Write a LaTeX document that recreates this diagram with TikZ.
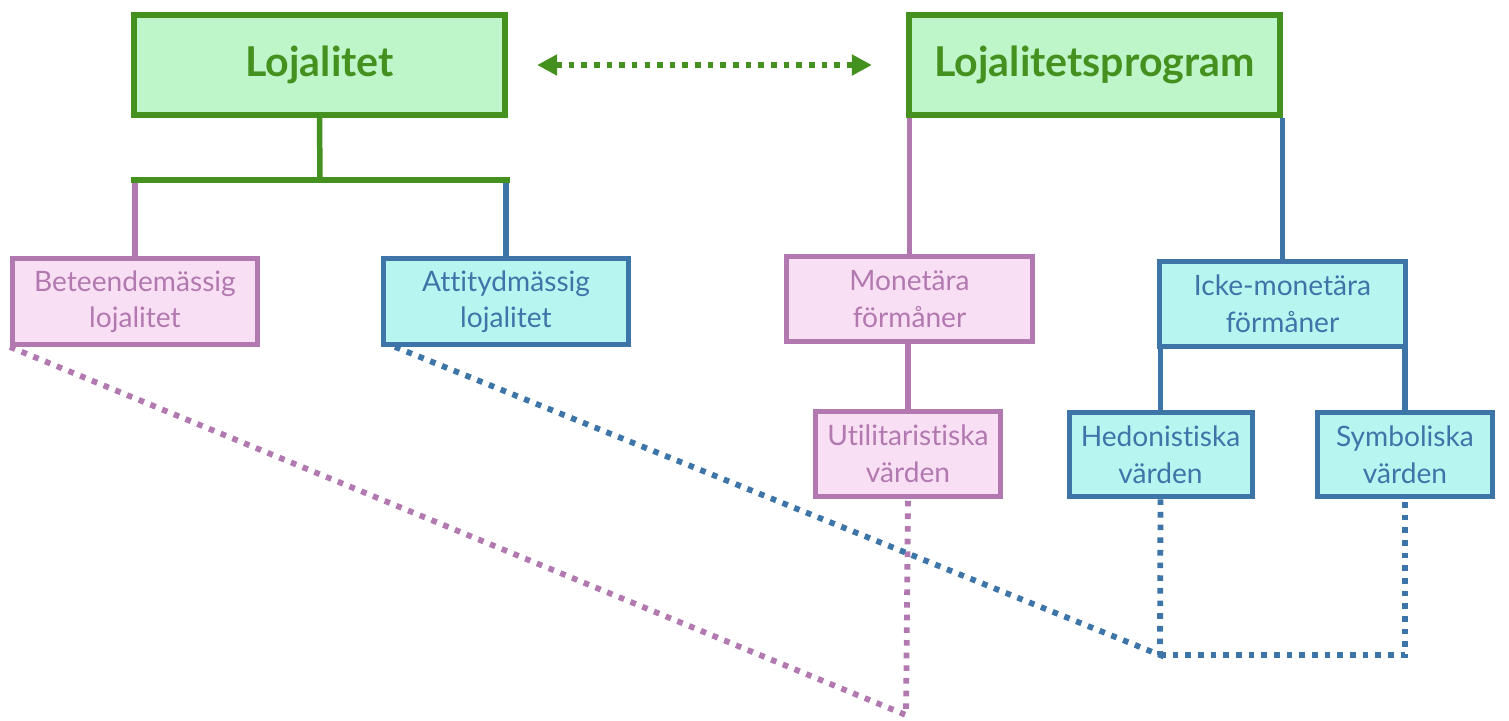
\documentclass[tikz,border=0pt]{standalone}
\usepackage{fontspec}
\setmainfont[Ligatures=NoCommon]{Lato}
\usetikzlibrary{arrows.meta}
\definecolor{grline}{HTML}{45911F}
\definecolor{grfill}{HTML}{BEF5C9}
\definecolor{pkline}{HTML}{B279B0}
\definecolor{pkfill}{HTML}{F9DFF3}
\definecolor{blline}{HTML}{3E75A8}
\definecolor{blfill}{HTML}{B6F5F0}
\begin{document}
\begin{tikzpicture}[x=0.01cm,y=-0.01cm,
	mainbox/.style={draw=grline,fill=grfill,text=grline,line width=0.06cm,minimum width=3.71cm,minimum height=1cm,font=\fontsize{11.7}{14}\selectfont\bfseries},
	smallbox/.style={line width=0.05cm,align=center,minimum height=0.84cm,font=\fontsize{8}{10.4}\selectfont},
	pinkbox/.style={smallbox,draw=pkline,fill=pkfill,text=pkline},
	bluebox/.style={smallbox,draw=blline,fill=blfill,text=blline},
	link/.style={line width=0.055cm},
	dots/.style={line width=0.058cm,dash pattern=on 1.6pt off 2pt}]
	%\draw[lightgray] (0,0) grid[step=100] (1509,720);
	\useasboundingbox (0,0) rectangle (1509,720);
	\node[mainbox] (loj) at (319.5,65) {Lojalitet};
	\node[mainbox] (prog) at (1094.5,65) {Lojalitetsprogram};
	\node[pinkbox,minimum width=2.45cm] (beh) at (135,301.5) {Beteendemässig\\lojalitet};
	\node[bluebox,minimum width=2.45cm] (att) at (506,301.5) {Attitydmässig\\lojalitet};
	\node[pinkbox,minimum width=2.46cm] (mon) at (909.5,299) {Monetära\\förmåner};
	\node[bluebox,minimum width=2.46cm] (icke) at (1282.5,304) {Icke-monetära\\förmåner};
	\node[pinkbox,minimum width=1.75cm] (uti) at (908,454) {Utilitaristiska\\värden};
	\node[bluebox,minimum width=1.74cm] (hed) at (1160.5,454.5) {Hedonistiska\\värden};
	\node[bluebox,minimum width=1.75cm] (sym) at (1405,454.5) {Symboliska\\värden};
	\coordinate (fork) at (320,180);
	\coordinate (pinkend) at (906,715);
	\coordinate (bluecorner) at (1160,655);

	\draw[<->,grline,dots,line width=0.06cm,>={Triangle[length=0.2cm,width=0.2cm]},shorten <=0.29cm,shorten >=0.34cm] (loj.east) -- (prog.west);

	\draw[link,pkline] (beh.north) -- (beh.north |- fork);
	\draw[link,blline] (att.north) -- (att.north |- fork);
	\draw[link,grline] (loj.south) -- (fork);
	\draw[link,grline] ([xshift=-1pt]beh.north |- fork) -- ([xshift=1pt]att.north |- fork);
	\draw[link,pkline] (mon.north) -- (mon.north |- prog.south);
	\draw[link,blline] (icke.north) -- (icke.north |- prog.south);
	\draw[link,pkline] (uti.north) -- (uti.north |- mon.south);
	\draw[link,blline] (hed.north) -- (hed.north |- icke.south);
	\draw[link,blline] (sym.north) -- (sym.north |- icke.south);

	\draw[dots,pkline] (beh.south west) -- (pinkend) -- (uti.south);
	\draw[dots,blline] ([xshift=4pt]att.south west) -- (bluecorner) -- (hed.south);
	\draw[dots,blline] (bluecorner) -- (bluecorner -| sym.south) -- (sym.south);
\end{tikzpicture}
\end{document}
